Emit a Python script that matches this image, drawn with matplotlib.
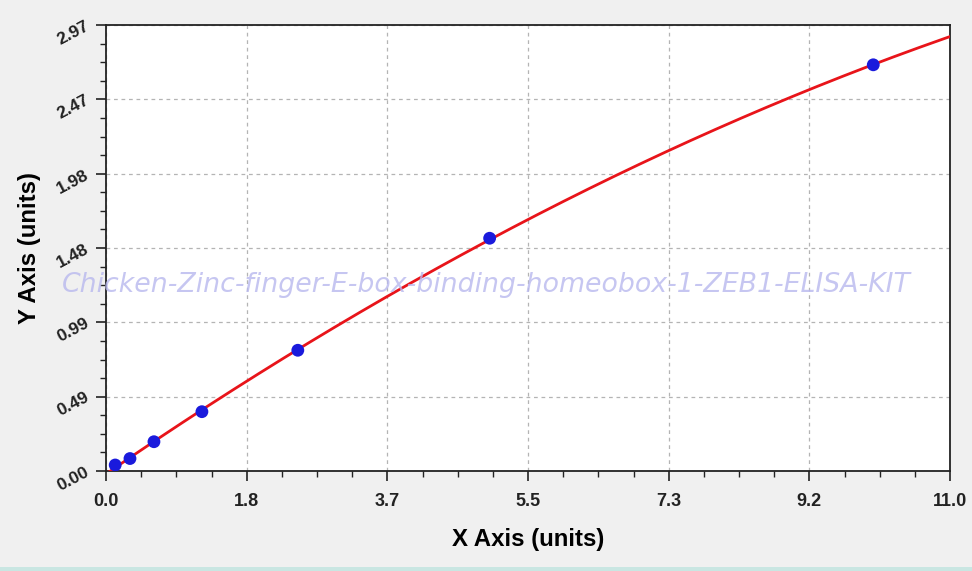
import numpy as np
import matplotlib
matplotlib.use("Agg")
import matplotlib.pyplot as plt
from matplotlib.ticker import FixedLocator, AutoMinorLocator
from matplotlib.patches import Rectangle

plt.rcParams['font.family'] = ['Liberation Sans', 'DejaVu Sans']

# Data
x_points = [0.12, 0.3125, 0.625, 1.25, 2.5, 5.0, 10.0]
y_points = [0.04, 0.083, 0.195, 0.395, 0.804, 1.55, 2.705]

x_ticks = [0.0, 11/6, 22/6, 33/6, 44/6, 55/6, 11.0]
x_tick_labels = ["0.0", "1.8", "3.7", "5.5", "7.3", "9.2", "11.0"]
y_ticks = [0.0, 0.495, 0.99, 1.485, 1.98, 2.475, 2.97]
y_tick_labels = ["0.00", "0.49", "0.99", "1.48", "1.98", "2.47", "2.97"]

watermark = "Chicken-Zinc-finger-E-box-binding-homeobox-1-ZEB1-ELISA-KIT"

fig = plt.figure(figsize=(9.72, 5.71), dpi=100, facecolor="#f0f0f0")
ax = fig.add_axes([106/972, 1-471/571, (950-106)/972, (471-25)/571])
ax.set_facecolor("white")

# fitted curve (quadratic fit through data)
coef = np.polyfit(x_points, y_points, 2)
xc = np.linspace(0.0, 11.0, 300)
yc = np.polyval(coef, xc)
ax.plot(xc, yc, color="#e8141a", lw=2.0, zorder=3)
ax.scatter(x_points, y_points, s=85, color="#1a1adc", zorder=4, edgecolors="none")

ax.set_xlim(0, 11.0)
ax.set_ylim(0, 2.97)
ax.xaxis.set_major_locator(FixedLocator(x_ticks))
ax.yaxis.set_major_locator(FixedLocator(y_ticks))
ax.set_xticklabels(x_tick_labels, fontsize=13, fontweight="bold", color="#222222")
ax.set_yticklabels(y_tick_labels, fontsize=12.5, fontweight="bold", color="#222222",
                   rotation=28, ha="right", va="center", rotation_mode="anchor")
ax.xaxis.set_minor_locator(AutoMinorLocator(4))
ax.yaxis.set_minor_locator(AutoMinorLocator(4))
ax.tick_params(axis="both", which="major", length=7, width=1.2, color="#222222", direction="out")
ax.tick_params(axis="both", which="minor", length=4, width=1.0, color="#222222", direction="out")
ax.tick_params(axis="x", pad=9)
ax.tick_params(axis="y", pad=6)

ax.grid(True, which="major", linestyle=(0, (3, 3)), color="#b4b4b4", lw=0.9)
for sp in ax.spines.values():
    sp.set_color("#222222")
    sp.set_linewidth(1.3)

ax.set_xlabel("X Axis (units)", fontsize=17.3, fontweight="bold", labelpad=13)
ax.set_ylabel("Y Axis (units)", fontsize=17.3, fontweight="bold", labelpad=10)

fig.text(486/972, 1-285/571, watermark, fontsize=19.3, style="italic",
         family=["DejaVu Sans"],
         color="#b8b8ee", alpha=0.8, ha="center", va="center", zorder=10)

fig.patches.append(Rectangle((0, 0), 1, 4/571, transform=fig.transFigure,
                             facecolor="#c9e6e2", edgecolor="none"))

fig.savefig("out.png", dpi=100, facecolor=fig.get_facecolor())
